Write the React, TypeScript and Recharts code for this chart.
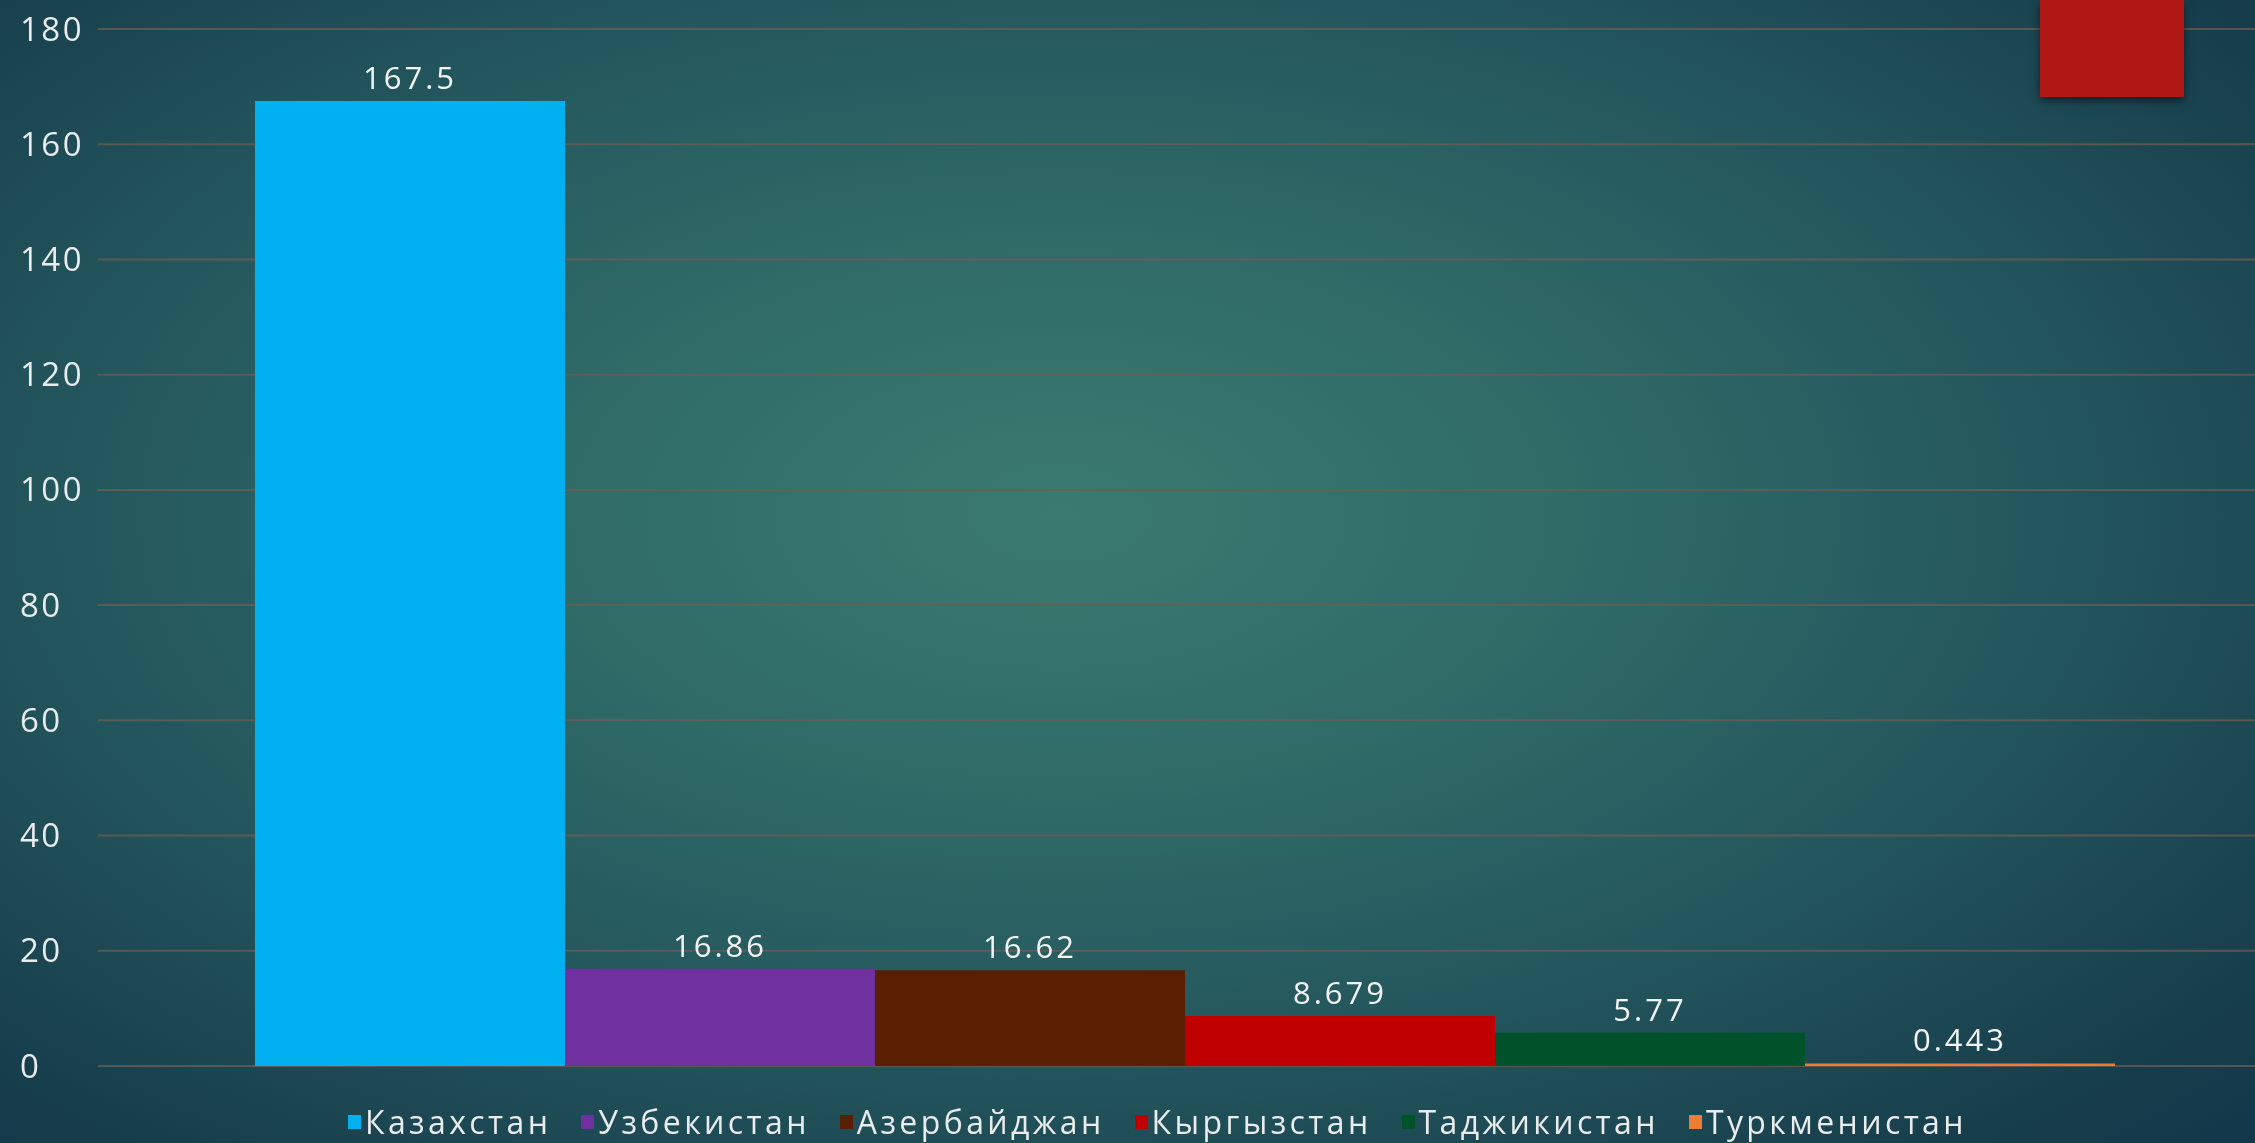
import React from "react";
import {
  BarChart,
  Bar,
  XAxis,
  YAxis,
  CartesianGrid,
  LabelList,
} from "recharts";

const countries = [
  "Казахстан",
  "Узбекистан",
  "Азербайджан",
  "Кыргызстан",
  "Таджикистан",
  "Туркменистан",
];
const values = [167.5, 16.86, 16.62, 8.679, 5.77, 0.443];
const colors = ["#00B0F0", "#7030A0", "#5A1E02", "#C00000", "#00522A", "#ED7D31"];
const yTicks = [0, 20, 40, 60, 80, 100, 120, 140, 160, 180];

const row: Record<string, number | string> = { name: "" };
countries.forEach((c, i) => {
  row[c] = values[i];
});
const chartData = [row];

const FONT = "'Open Sans', 'DejaVu Sans', sans-serif";

const YTick = (props: any) => {
  const { y, payload } = props;
  return (
    <text
      x={20}
      y={y}
      dy="0.35em"
      textAnchor="start"
      fill="#e9ecec"
      fontSize={33}
      letterSpacing={2.5}
      fontFamily={FONT}
    >
      {payload.value}
    </text>
  );
};

const App: React.FC = () => {
  return (
    <div
      style={{
        position: "fixed",
        left: 0,
        top: 0,
        width: 2255,
        height: 1143,
        overflow: "hidden",
        background:
          "radial-gradient(ellipse 75% 80% at 47% 45%, #3b7a70 0%, #306b68 30%, #24575d 58%, #183f4d 85%, #12364a 100%)",
      }}
    >
      <BarChart
        width={2271}
        height={1143}
        data={chartData}
        margin={{ top: 29, right: 0, bottom: 77, left: 0 }}
        barGap={0}
        barCategoryGap={157}
      >
        <CartesianGrid
          vertical={false}
          stroke="#6e5e50"
          strokeOpacity={0.75}
          strokeWidth={2}
        />
        <XAxis dataKey="name" hide />
        <YAxis
          width={98}
          domain={[0, 180]}
          ticks={yTicks}
          axisLine={false}
          tickLine={false}
          tick={YTick}
          interval={0}
        />
        {countries.map((c, i) => (
          <Bar key={c} dataKey={c} fill={colors[i]} isAnimationActive={false}>
            <LabelList
              dataKey={c}
              position="top"
              offset={12}
              fill="#f2f4f4"
              fontSize={31}
              letterSpacing={3}
              fontFamily={FONT}
            />
          </Bar>
        ))}
      </BarChart>

      {/* decorative red block top right */}
      <div
        style={{
          position: "absolute",
          left: 2040,
          top: 0,
          width: 144,
          height: 97,
          background: "#B01815",
          boxShadow: "0 4px 8px rgba(0,0,0,0.5)",
        }}
      />

      <div
        style={{
          position: "absolute",
          left: 348,
          top: 1100,
          display: "flex",
          alignItems: "center",
          gap: 30,
          fontFamily: FONT,
          fontSize: 32,
          letterSpacing: 3.4,
          color: "#e9ecec",
          whiteSpace: "nowrap",
        }}
      >
        {countries.map((c, i) => (
          <div key={c} style={{ display: "flex", alignItems: "center" }}>
            <span
              style={{
                display: "inline-block",
                width: 13,
                height: 14,
                background: colors[i],
                marginRight: 4,
              }}
            />
            <span>{c}</span>
          </div>
        ))}
      </div>
    </div>
  );
};

export default App;
